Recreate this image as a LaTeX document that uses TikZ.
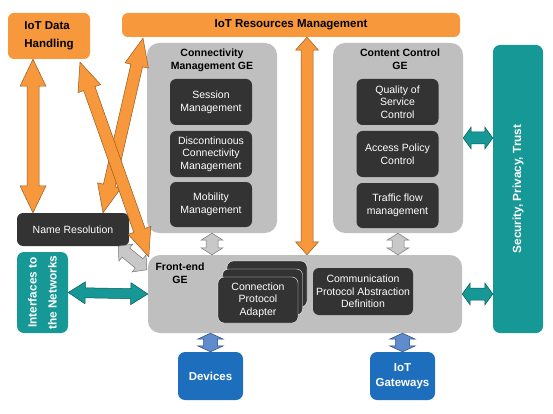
\documentclass[tikz,border=0pt]{standalone}
\usepackage{fontspec}
\setmainfont{Liberation Sans}
\usetikzlibrary{calc,positioning}

\definecolor{orangeC}{RGB}{247,152,60}
\definecolor{orangeD}{RGB}{150,90,30}
\definecolor{geGray}{RGB}{191,191,191}
\definecolor{darkC}{RGB}{51,51,51}
\definecolor{tealC}{RGB}{22,152,150}
\definecolor{tealD}{RGB}{10,88,86}
\definecolor{blueC}{RGB}{30,110,190}
\definecolor{blueA}{RGB}{95,140,205}
\definecolor{blueD}{RGB}{40,75,125}
\definecolor{arrowGray}{RGB}{200,200,200}
\definecolor{grayD}{RGB}{120,120,120}

\tikzset{
  box/.style={inner sep=0pt, align=center},
  orangebox/.style={box, fill=orangeC, rounded corners=6pt,
    font=\fontsize{11.5}{18}\selectfont\bfseries},
  gebox/.style={box, fill=geGray, rounded corners=12pt},
  getitle/.style={box, font=\fontsize{10.5}{13.3}\selectfont\bfseries},
  darkbox/.style={box, fill=darkC, text=white, rounded corners=6pt,
    minimum width=82pt, minimum height=46pt,
    font=\fontsize{10.5}{12.6}\selectfont},
  tealbox/.style={box, fill=tealC, text=white, rounded corners=7pt,
    font=\fontsize{11.8}{20}\selectfont\bfseries},
  bluebox/.style={box, fill=blueC, text=white, rounded corners=7pt,
    minimum width=65pt, minimum height=48pt,
    font=\fontsize{11.5}{15}\selectfont\bfseries},
  orangearrow/.style={fill=orangeC, draw=orangeD, line width=0.5pt},
  grayarrow/.style={fill=arrowGray, draw=grayD, line width=0.5pt},
  tealarrow/.style={fill=tealC, draw=tealD, line width=0.5pt},
  bluearrow/.style={fill=blueA, draw=blueD, line width=0.5pt}
}

% fat double arrow: style, from, to, head length, head half width, shaft half width
\newcommand\dblarrow[6]{%
  \draw[#1] (#2)
    -- ($(#2)!#4!(#3)!#5!90:(#3)$)
    -- ($(#2)!#4!(#3)!#6!90:(#3)$)
    -- ($(#3)!#4!(#2)!#6!-90:(#2)$)
    -- ($(#3)!#4!(#2)!#5!-90:(#2)$)
    -- (#3)
    -- ($(#3)!#4!(#2)!#5!90:(#2)$)
    -- ($(#3)!#4!(#2)!#6!90:(#2)$)
    -- ($(#2)!#4!(#3)!#6!-90:(#3)$)
    -- ($(#2)!#4!(#3)!#5!-90:(#3)$)
    -- cycle;}

\begin{document}
\begin{tikzpicture}[x=1pt,y=-1pt]
\useasboundingbox (0,0) rectangle (553,414);

% top bars
\node[orangebox, minimum width=82pt, minimum height=46pt, align=left] (datahandling) at (49,36) {IoT Data\\Handling};
\node[orangebox, minimum width=338pt, minimum height=24pt] (resmgmt) at (291,25) {IoT Resources Management};

% generic enablers
\node[gebox, minimum width=130pt, minimum height=190pt] (connge) at (212,138) {};
\node[getitle] (conntitle) at (212,60) {Connectivity\\Management GE};
\node[darkbox] (session) at (211,102) {Session\\Management};
\node[darkbox] (discont) at (211,154) {Discontinuous\\Connectivity\\Management};
\node[darkbox, minimum height=45pt] (mobility) at (211,204.5) {Mobility\\Management};

\node[gebox, minimum width=130pt, minimum height=190pt] (ccge) at (398,138) {};
\node[getitle] (cctitle) at (400,59) {Content Control\\GE};
\node[darkbox] (qos) at (397.5,102) {Quality of\\Service\\Control};
\node[darkbox] (access) at (397.5,154) {Access Policy\\Control};
\node[darkbox, minimum height=45pt] (traffic) at (397.5,205.5) {Traffic flow\\management};

\node[gebox, minimum width=314pt, minimum height=78pt] (frontend) at (305,294) {};
\node[getitle] (fetitle) at (180,273) {Front-end\\GE};
\node[darkbox, draw=white, minimum width=80pt] (cpa3) at (267,284) {};
\node[darkbox, draw=white, minimum width=80pt] (cpa2) at (262.5,292) {};
\node[darkbox, draw=white, minimum width=80pt] (cpa) at (258,300) {Connection\\Protocol\\Adapter};
\node[darkbox, minimum width=100pt, minimum height=47pt] (cpad) at (363,291.5) {Communication\\Protocol Abstraction\\Definition};

% side blocks
\node[tealbox, minimum width=50pt, minimum height=288pt] (security) at (518,189) {};
\node[tealbox, rotate=90] (sectext) at (518,189) {Security, Privacy, Trust};
\node[darkbox, minimum width=112pt, minimum height=33pt] (nameres) at (73,229.5) {Name Resolution};
\node[tealbox, minimum width=51pt, minimum height=81pt] (interfaces) at (42.5,292.5) {};
\node[tealbox, rotate=90] (iftext) at (42.5,292.5) {Interfaces to\\the Networks};
\node[bluebox] (devices) at (210.5,376) {Devices};
\node[bluebox] (gateways) at (402.5,376) {IoT\\Gateways};

% arrow ends
\coordinate (dh-v) at ([xshift=-16pt]datahandling.south);
\coordinate (nr-v) at ([xshift=-40pt]nameres.north);
\coordinate (rm-a) at ([shift={(-148,1)}]resmgmt.south);
\coordinate (nr-a) at ([xshift=30pt]nameres.north);
\coordinate (dh-b) at ([shift={(31,3)}]datahandling.south);
\coordinate (fe-b) at ([shift={(1,2)}]frontend.north west);
\coordinate (rm-c) at ([xshift=16pt]resmgmt.south);
\coordinate (fe-c) at (rm-c |- frontend.north);
\coordinate (nr-g) at ([xshift=-11pt]nameres.south east);
\coordinate (fe-g) at ([shift={(-1,15)}]frontend.north west);

% orange connectors
\dblarrow{orangearrow}{dh-v}{nr-v}{27pt}{13pt}{6pt}
\dblarrow{orangearrow}{rm-a}{nr-a}{28pt}{12pt}{6pt}
\dblarrow{orangearrow}{dh-b}{fe-b}{28pt}{12pt}{6pt}
\dblarrow{orangearrow}{rm-c}{fe-c}{13pt}{11.5pt}{6pt}

% gray connectors
\dblarrow{grayarrow}{connge.south}{connge.south |- frontend.north}{7pt}{11pt}{6pt}
\dblarrow{grayarrow}{ccge.south}{ccge.south |- frontend.north}{7pt}{11pt}{6pt}
\dblarrow{grayarrow}{nr-g}{fe-g}{10pt}{11pt}{6pt}

% teal connectors
\dblarrow{tealarrow}{ccge.east}{ccge.east -| security.west}{8pt}{11pt}{6pt}
\dblarrow{tealarrow}{frontend.east}{frontend.east -| security.west}{8pt}{11pt}{6pt}
\dblarrow{tealarrow}{interfaces.east}{frontend.west}{17pt}{11pt}{5pt}

% blue connectors
\dblarrow{bluearrow}{devices.north}{devices.north |- frontend.south}{6pt}{13pt}{7pt}
\dblarrow{bluearrow}{gateways.north}{gateways.north |- frontend.south}{6pt}{13pt}{7pt}
\end{tikzpicture}
\end{document}
